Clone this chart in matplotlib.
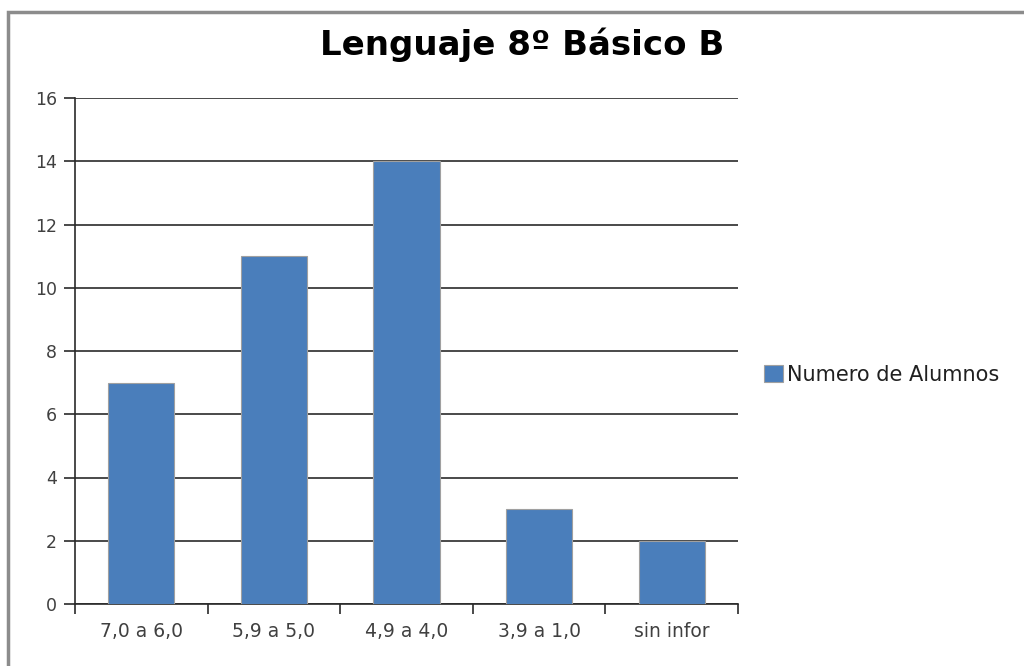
import matplotlib
matplotlib.use("Agg")
import matplotlib.pyplot as plt
from matplotlib.patches import Rectangle
import numpy as np

title = "Lenguaje 8º Básico B"
categories = ["7,0 a 6,0", "5,9 a 5,0", "4,9 a 4,0", "3,9 a 1,0", "sin infor"]
alumnos = [7, 11, 14, 3, 2]
series_name = "Numero de Alumnos"
yticks = [0, 2, 4, 6, 8, 10, 12, 14, 16]

bar_color = "#4a7ebb"
text_color = "#404040"

fig = plt.figure(figsize=(10.24, 6.66), dpi=100)
W, H = 1024, 666

# outer chart frame
fig.patches.append(Rectangle((8 / W, -0.1), 1.2, 1 - 12 / H + 0.1,
                             transform=fig.transFigure, fill=False,
                             edgecolor="#8c8c8c", linewidth=2.5))

ax = fig.add_axes([75 / W, 1 - 604 / H, (738 - 75) / W, (604 - 98) / H])
x = np.arange(len(categories))
ax.bar(x, alumnos, width=0.5, color=bar_color, edgecolor="#a0a0a0",
       linewidth=0.8, zorder=3, label=series_name)

ax.set_xlim(-0.5, len(categories) - 0.5)
ax.set_ylim(0, 16)
ax.set_yticks(yticks)
ax.set_yticklabels([str(v) for v in yticks])
ax.yaxis.grid(True, color="#2a2a2a", linewidth=1.2, zorder=1)
ax.set_axisbelow(True)

ax.set_xticks(np.arange(len(categories) + 1) - 0.5)
ax.set_xticklabels([])
ax.set_xticks(x, minor=True)
ax.set_xticklabels(categories, minor=True)
ax.tick_params(axis="x", which="minor", length=0, pad=13,
               labelsize=13.5, labelcolor=text_color)
ax.tick_params(axis="x", which="major", length=7, width=1.2,
               direction="out", color="#2a2a2a")
ax.tick_params(axis="y", length=8, width=1.2, direction="out",
               color="#2a2a2a", labelsize=12.5, labelcolor=text_color, pad=5)

for side in ["top", "right"]:
    ax.spines[side].set_visible(False)
for side in ["left", "bottom"]:
    ax.spines[side].set_color("#2a2a2a")
    ax.spines[side].set_linewidth(1.2)

fig.text(522 / W, 1 - 45 / H, title, ha="center", va="center",
         fontsize=24.5, fontweight="bold", color="black")

leg = ax.legend(loc="center left", bbox_to_anchor=(756 / W, 1 - 375 / H),
                bbox_transform=fig.transFigure, frameon=False,
                fontsize=15, handlelength=0.9, handleheight=0.9,
                handletextpad=0.2, borderaxespad=0)
for t in leg.get_texts():
    t.set_color("#202020")

fig.savefig("out.png", dpi=100)
